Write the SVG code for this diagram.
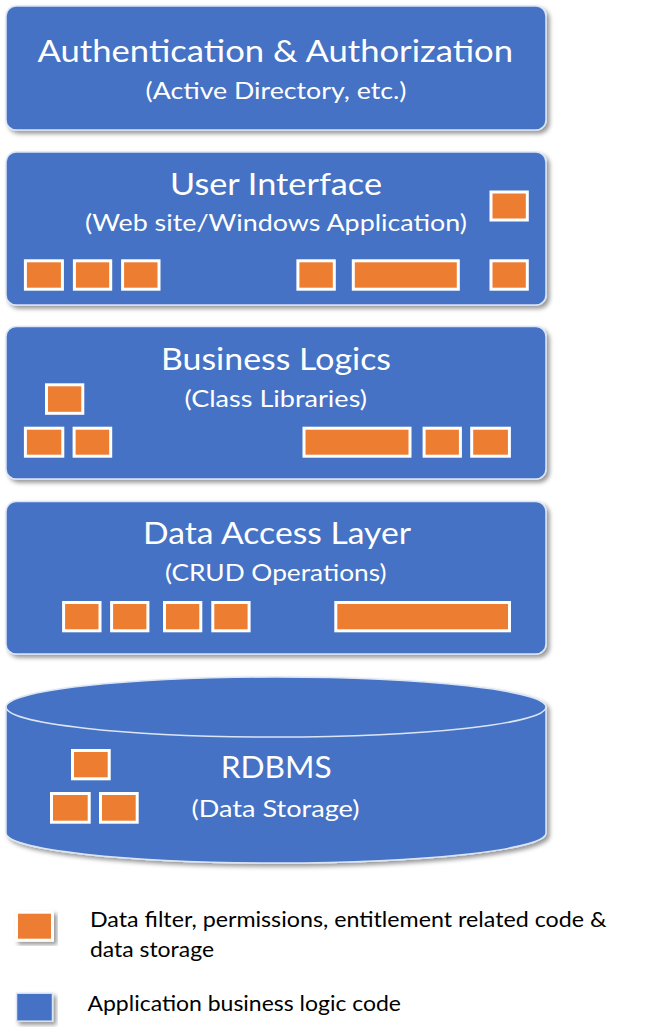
<svg xmlns="http://www.w3.org/2000/svg" width="651" height="1036" viewBox="0 0 651 1036">
<defs>
<filter id="sh" x="-10%" y="-10%" width="125%" height="130%">
<feDropShadow dx="3" dy="3" stdDeviation="2" flood-color="#000" flood-opacity="0.4"/>
</filter>
<style>
.layer{fill:#4472C4;stroke:#dbe5f5;stroke-width:1.5;filter:url(#sh)}
.sq{fill:#ED7D31;stroke:#fff;stroke-width:3}
.t{font-family:Lato,"Open Sans","Liberation Sans",sans-serif;fill:#fff}
.title{font-size:31px}
.sub{font-size:24px}
.leg{font-family:Lato,"Open Sans","Liberation Sans",sans-serif;font-size:21px;fill:#000}
.edge{fill:none;stroke:#dbe5f5;stroke-width:1.5}
</style>
</defs>
<rect width="651" height="1036" fill="#fff"/>
<g id="connectors"/>
<g id="node-auth">
<rect class="layer" x="6" y="6" width="540" height="124" rx="10"/>
<text class="t title" x="37.5" y="62" textLength="475.5" lengthAdjust="spacingAndGlyphs">Authentication &amp; Authorization</text>
<text class="t sub" x="145.5" y="98.5" textLength="261" lengthAdjust="spacingAndGlyphs">(Active Directory, etc.)</text>
</g>
<g id="node-ui">
<rect class="layer" x="6" y="152" width="540" height="153" rx="10"/>
<text class="t title" x="170" y="195" textLength="212" lengthAdjust="spacingAndGlyphs">User Interface</text>
<text class="t sub" x="85" y="231" textLength="382" lengthAdjust="spacingAndGlyphs">(Web site/Windows Application)</text>
<rect class="sq" x="491" y="192" width="36.3" height="28"/>
<rect class="sq" x="25.4" y="260.8" width="37" height="28.4"/>
<rect class="sq" x="74.4" y="260.8" width="36.3" height="28.4"/>
<rect class="sq" x="122.6" y="260.8" width="36.4" height="28.4"/>
<rect class="sq" x="297.9" y="260.8" width="36.4" height="28.4"/>
<rect class="sq" x="353.3" y="260.8" width="105" height="28.4"/>
<rect class="sq" x="491" y="260.8" width="36.3" height="28.4"/>
</g>
<g id="node-bl">
<rect class="layer" x="6" y="326.5" width="540" height="152.5" rx="10"/>
<text class="t title" x="161" y="370" textLength="230" lengthAdjust="spacingAndGlyphs">Business Logics</text>
<text class="t sub" x="184.5" y="406.5" textLength="182.5" lengthAdjust="spacingAndGlyphs">(Class Libraries)</text>
<rect class="sq" x="46.5" y="384.8" width="36.3" height="28.5"/>
<rect class="sq" x="25.4" y="428.2" width="37.4" height="28"/>
<rect class="sq" x="74.1" y="428.2" width="36.6" height="28"/>
<rect class="sq" x="304" y="428.2" width="106" height="28"/>
<rect class="sq" x="424.1" y="428.2" width="36.3" height="28"/>
<rect class="sq" x="471.7" y="428.2" width="37.7" height="28"/>
</g>
<g id="node-dal">
<rect class="layer" x="6" y="501.5" width="540" height="152.5" rx="10"/>
<text class="t title" x="143" y="544" textLength="268" lengthAdjust="spacingAndGlyphs">Data Access Layer</text>
<text class="t sub" x="165" y="581" textLength="221.5" lengthAdjust="spacingAndGlyphs">(CRUD Operations)</text>
<rect class="sq" x="63.6" y="602.5" width="36.4" height="28.3"/>
<rect class="sq" x="111.6" y="602.5" width="36.3" height="28.3"/>
<rect class="sq" x="164.5" y="602.5" width="36.3" height="28.3"/>
<rect class="sq" x="212.8" y="602.5" width="36.3" height="28.3"/>
<rect class="sq" x="335.8" y="602.5" width="173.7" height="28.3"/>
</g>
<g id="node-rdbms">
<path class="layer" d="M6,707 A270,30 0 0 1 546,707 L546,833 A270,30 0 0 1 6,833 Z"/>
<path class="edge" d="M6,707 A270,30 0 0 0 546,707"/>
<text class="t title" x="220.7" y="778" textLength="111" lengthAdjust="spacingAndGlyphs">RDBMS</text>
<text class="t sub" x="191.5" y="817" textLength="168" lengthAdjust="spacingAndGlyphs">(Data Storage)</text>
<rect class="sq" x="72.5" y="750.5" width="36.7" height="28.3"/>
<rect class="sq" x="51.5" y="793.5" width="37.7" height="28.7"/>
<rect class="sq" x="100.5" y="793.5" width="36.7" height="28.7"/>
</g>
<g id="legend">
<rect class="sq" x="16.5" y="912.2" width="36" height="28" filter="url(#sh)"/>
<text class="leg" x="90" y="927" textLength="516.5" lengthAdjust="spacingAndGlyphs">Data filter, permissions, entitlement related code &amp;</text>
<text class="leg" x="90" y="957" textLength="124" lengthAdjust="spacingAndGlyphs">data storage</text>
<rect x="16.5" y="993.2" width="36" height="28" fill="#4472C4" stroke="#dbe5f5" stroke-width="1.5" filter="url(#sh)"/>
<text class="leg" x="87.5" y="1010.5" textLength="313.5" lengthAdjust="spacingAndGlyphs">Application business logic code</text>
</g>
</svg>
